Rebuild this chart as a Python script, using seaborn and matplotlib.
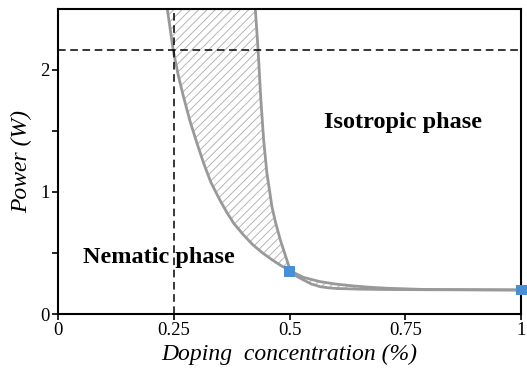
"""
Phase diagram: power vs doping concentration.
"""
import numpy as np
import pandas as pd
import seaborn as sns
import matplotlib.pyplot as plt

# upper boundary (steep curve)
x_upper = [0.426, 0.432, 0.438, 0.444, 0.451, 0.462, 0.470, 0.480, 0.492, 0.502,
           0.515, 0.530, 0.547, 0.566, 0.585, 0.603, 0.650, 0.700, 0.800, 1.000]
p_upper = [2.50, 2.164, 1.754, 1.426, 1.156, 0.877, 0.746, 0.607, 0.467, 0.352,
           0.310, 0.279, 0.246, 0.224, 0.214, 0.209, 0.204, 0.201, 0.199, 0.197]

# lower boundary (decaying curve)
x_lower = [0.236, 0.249, 0.260, 0.271, 0.285, 0.300, 0.315, 0.330, 0.350, 0.365,
           0.380, 0.400, 0.420, 0.440, 0.460, 0.480, 0.502, 0.530, 0.566, 0.600,
           0.638, 0.670, 0.711, 0.783, 0.850, 1.000]
p_lower = [2.50, 2.156, 1.95, 1.78, 1.58, 1.40, 1.23, 1.08, 0.93, 0.83,
           0.74, 0.65, 0.57, 0.505, 0.45, 0.40, 0.352, 0.300, 0.265, 0.245,
           0.230, 0.220, 0.211, 0.202, 0.200, 0.197]

# measured points
x_meas = [0.5, 1.0]
p_meas = [0.35, 0.197]

threshold_power = 2.16
threshold_doping = 0.25

x_ticks = [0, 0.25, 0.5, 0.75, 1]
x_ticklabels = ['0', '0.25', '0.5', '0.75', '1']
y_ticks = [0, 0.5, 1, 1.5, 2]
y_ticklabels = ['0', '', '1', '', '2']

sns.set_style('ticks', {'text.color': 'black', 'axes.labelcolor': 'black',
                        'xtick.color': 'black', 'ytick.color': 'black',
                        'axes.edgecolor': 'black'})
plt.rcParams['font.family'] = ['Liberation Serif', 'DejaVu Serif']
plt.rcParams['hatch.linewidth'] = 0.7

upper = pd.DataFrame({'x': x_upper, 'p': p_upper})
lower = pd.DataFrame({'x': x_lower, 'p': p_lower})
meas = pd.DataFrame({'x': x_meas, 'p': p_meas})

fig = plt.figure(figsize=(5.27, 3.69), dpi=100)
ax = fig.add_axes([0.110, 0.149, 0.879, 0.827])

# hatched region between the two boundaries
poly_x = list(x_lower) + list(x_upper)[::-1]
poly_y = list(p_lower) + list(p_upper)[::-1]
ax.fill(poly_x, poly_y, facecolor='none', edgecolor='#b4b4b4', hatch='////', linewidth=0)

sns.lineplot(data=upper, x='x', y='p', color='#999999', linewidth=2.0, ax=ax, sort=False)
sns.lineplot(data=lower, x='x', y='p', color='#999999', linewidth=2.0, ax=ax, sort=False)

ax.axhline(threshold_power, color='black', linewidth=1.1, dashes=(5, 3))
ax.axvline(threshold_doping, color='black', linewidth=1.1, dashes=(5, 3))

sns.scatterplot(data=meas, x='x', y='p', marker='s', s=60, color='#4a8fd4',
                edgecolor='none', ax=ax, clip_on=False, zorder=5)

ax.set_xlim(0, 1)
ax.set_ylim(0, 2.5)
ax.set_xticks(x_ticks)
ax.set_xticklabels(x_ticklabels)
ax.set_yticks(y_ticks)
ax.set_yticklabels(y_ticklabels)
ax.tick_params(labelsize=13.5, length=4, width=1.2, colors='black', pad=2)

for s in ax.spines.values():
    s.set_visible(True)
    s.set_linewidth(1.5)
    s.set_color('black')

ax.set_xlabel('Doping  concentration (%)', fontsize=17, style='italic', labelpad=3)
ax.set_ylabel('Power (W)', fontsize=17, style='italic', labelpad=6)

ax.text(0.744, 1.566, 'Isotropic phase', fontsize=17.5, fontweight='bold',
        ha='center', va='center')
ax.text(0.218, 0.46, 'Nematic phase', fontsize=17.5, fontweight='bold',
        ha='center', va='center')

fig.savefig('out.png', dpi=100)
